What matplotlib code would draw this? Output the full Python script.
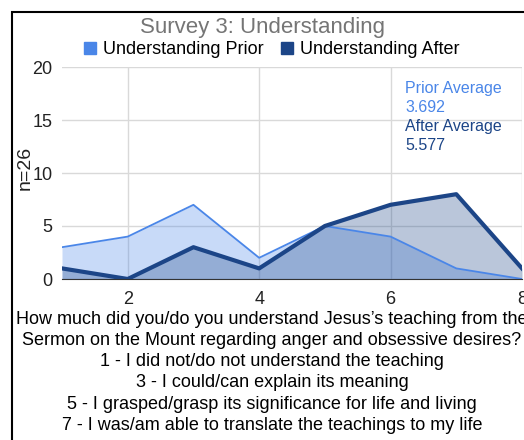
import matplotlib
matplotlib.use("Agg")
import matplotlib.pyplot as plt
from matplotlib.patches import Rectangle
from matplotlib.lines import Line2D

plt.rcParams['font.family'] = ['Liberation Sans', 'DejaVu Sans']

x = [1, 2, 3, 4, 5, 6, 7, 8]
prior = [3, 4, 7, 2, 5, 4, 1, 0]
after = [1, 0, 3, 1, 5, 7, 8, 1]
series_names = ["Understanding Prior", "Understanding After"]
prior_color = "#4a86e8"
after_color = "#1c4587"
title = "Survey 3: Understanding"
ylabel = "n=26"
notes = [("Prior Average", prior_color), ("3.692", prior_color),
         ("After Average", after_color), ("5.577", after_color)]
xlabel_lines = [
    "How much did you/do you understand Jesus\u2019s teaching from the",
    "Sermon on the Mount regarding anger and obsessive desires?",
    "1 - I did not/do not understand the teaching",
    "3 - I could/can explain its meaning",
    "5 - I grasped/grasp its significance for life and living",
    "7 - I was/am able to translate the teachings to my life",
]

W, H = 524, 440
fig = plt.figure(figsize=(W / 100, H / 100), dpi=100)
fig.patch.set_facecolor("white")

# outer border (cropped on right/bottom)
fig.patches.append(Rectangle((12 / W, -0.1), 1.2, (H - 12) / H + 0.1,
                             transform=fig.transFigure, fill=False,
                             edgecolor="black", linewidth=1.5))

left, right = 62 / W, 522 / W
bottom, top = 1 - 279 / H, 1 - 67 / H
ax = fig.add_axes([left, bottom, right - left, top - bottom])
ax.set_facecolor("none")

ax.fill_between(x, prior, 0, color=prior_color, alpha=0.3, linewidth=0)
ax.plot(x, prior, color=prior_color, linewidth=1.3, label=series_names[0])
ax.fill_between(x, after, 0, color=after_color, alpha=0.3, linewidth=0)
ax.plot(x, after, color=after_color, linewidth=3, label=series_names[1])

ax.set_xlim(1, 8)
ax.set_ylim(0, 20)
ax.set_xticks([2, 4, 6, 8])
ax.set_yticks([0, 5, 10, 15, 20])
ax.grid(True, color="#d9d9d9", linewidth=1)
ax.set_axisbelow(True)
for s in ["top", "right", "left"]:
    ax.spines[s].set_visible(False)
ax.spines["bottom"].set_color("#333333")
ax.tick_params(length=0, labelsize=13, colors="#222222")
ax.tick_params(axis="x", pad=9)
ax.tick_params(axis="y", pad=7)

fig.text(25 / W, 1 - 168 / H, ylabel, rotation=90, ha="center", va="center",
         fontsize=14, color="#222222")

fig.text(262 / W, 1 - 27 / H, title, ha="center", va="center",
         fontsize=16, color="#757575")

handles = [Line2D([], [], marker="s", linestyle="none", markersize=9,
                  markerfacecolor=prior_color, markeredgecolor=prior_color),
           Line2D([], [], marker="s", linestyle="none", markersize=9,
                  markerfacecolor=after_color, markeredgecolor=after_color)]
fig.legend(handles, series_names, loc="center", bbox_to_anchor=(271 / W, 1 - 50 / H),
           ncol=2, frameon=False, fontsize=13, handletextpad=0.3,
           columnspacing=0.9, handlelength=0.8)

ys = [89, 107, 127, 146]
for (t, c), yy in zip(notes, ys):
    fig.text(405 / W, 1 - yy / H, t, ha="left", va="center", fontsize=11.5, color=c)

for i, line in enumerate(xlabel_lines):
    fig.text(272 / W, 1 - (319 + 21.3 * i) / H, line, ha="center", va="center",
             fontsize=13, color="black")

fig.savefig("out.png", dpi=100)
